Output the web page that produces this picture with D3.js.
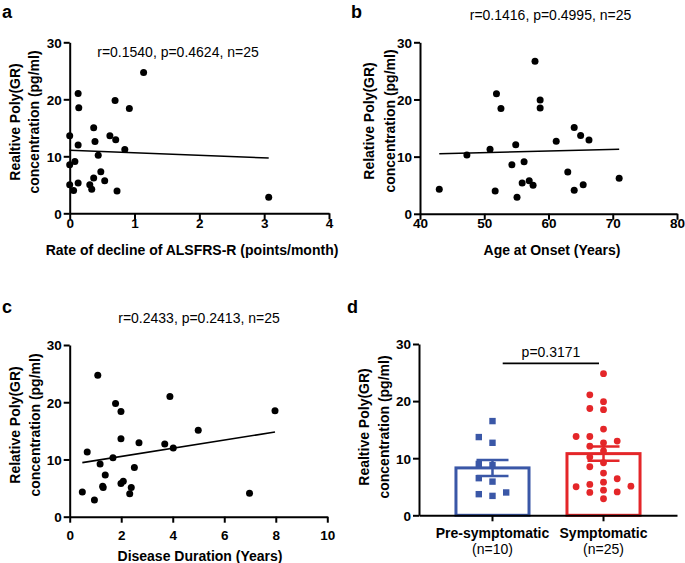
<!DOCTYPE html>
<html><head><meta charset="utf-8">
<script src="https://cdn.jsdelivr.net/npm/d3@7"></script>
<style>
body{margin:0;background:#fff}
svg{display:block}
text{font-family:"Liberation Sans",Arial,Helvetica,sans-serif;fill:#000}
</style>
</head><body>
<svg id="chart" width="685" height="563"></svg>
<script>
// ---------- data ----------
// Panel a: rate of decline of ALSFRS-R vs concentration
const aRate = [1.14,0.13,0.14,0.70,0.92,0.00,0.37,0.39,0.62,0.71,0.85,0.13,0.44,0.00,0.08,0.48,0.37,0.54,0.00,0.06,0.13,0.31,0.34,0.73,3.07];
const aConc = [24.7,21.0,18.5,19.8,18.4,13.6,15.0,12.6,13.6,12.9,11.2,12.0,10.2,8.5,9.1,7.3,6.2,5.7,5.0,4.0,5.3,5.0,4.2,3.9,2.8];
const aFitX = [0, 3.07];
const aFitY = [11.05, 9.7];
const aStat = "r=0.1540, p=0.4624, n=25";

// Panel b: age at onset vs concentration
const bAge = [43.0,47.3,50.9,51.9,52.6,51.7,54.9,54.3,56.2,55.9,55.1,57.0,57.6,57.9,58.7,58.7,61.2,64.0,65.0,66.3,63.0,65.4,64.0,71.0];
const bConc = [4.3,10.3,11.3,21.0,18.4,4.0,12.1,8.6,9.1,5.4,2.9,5.8,5.0,26.7,19.9,18.5,12.7,15.1,13.7,12.9,7.3,5.1,4.1,6.2];
const bFitX = [43, 71];
const bFitY = [10.5, 11.3];
const bStat = "r=0.1416, p=0.4995, n=25";

// Panel c: disease duration vs concentration
const cDur = [1.09,0.49,0.68,0.96,1.18,1.38,1.28,1.30,1.68,1.78,1.99,1.99,1.99,2.08,2.39,2.33,2.51,2.69,3.69,3.89,4.02,4.99,7.97,6.98];
const cConc = [24.7,4.3,11.3,2.9,9.2,7.3,5.3,5.1,10.3,19.8,18.4,13.6,5.8,6.2,5.1,4.0,8.6,12.9,12.7,21.0,12.0,15.1,18.5,4.1];
const cFitX = [0.49, 7.97];
const cFitY = [9.45, 14.8];
const cStat = "r=0.2433, p=0.2413, n=25";

// Panel d: groups
const groups = ["Pre-symptomatic", "Symptomatic"];
const groupN = ["(n=10)", "(n=25)"];
const groupMean = [8.3, 10.8];
const groupSEM = [1.4, 1.25];
const preVals = [16.5,13.7,12.7,9.0,8.8,6.5,5.9,3.4,4.0,3.7];
const symVals = [24.8,21.1,18.7,19.9,18.5,15.1,13.8,13.8,12.7,13.0,12.1,11.3,10.2,9.2,8.5,7.4,6.4,5.1,5.0,5.4,5.8,4.4,4.0,4.1,2.9];
const dStat = "p=0.3171";

const yTicks = [0, 10, 20, 30];

// ---------- drawing ----------
const svg = d3.select("#chart");
const FONT = '"Liberation Sans",Arial,Helvetica,sans-serif';
const BLUE = "#3a57a7", RED = "#e42629";

function styleAxis(g) {
  g.selectAll("path.domain").attr("stroke", "#000").attr("stroke-width", 2);
  g.selectAll(".tick line").attr("stroke", "#000").attr("stroke-width", 2);
  g.selectAll(".tick text").attr("font-family", FONT).attr("font-size", 13.5)
    .attr("font-weight", "bold").attr("fill", "#000");
}

function yAxis(y, x0, line1, l1x, l2x, cy) {
  const g = svg.append("g").attr("transform", `translate(${x0},0)`)
    .call(d3.axisLeft(y).tickValues(yTicks).tickSize(6).tickSizeOuter(0).tickPadding(2));
  styleAxis(g);
  g.selectAll(".tick text").attr("dy", "0.36em");
  [[line1, l1x], ["concentration (pg/ml)", l2x]].forEach(([t, x]) => {
    svg.append("text").attr("transform", `translate(${x},${cy}) rotate(-90)`)
      .attr("text-anchor", "middle").attr("font-size", 14).attr("font-weight", "bold").text(t);
  });
}

function scatterPanel(o) {
  const x = d3.scaleLinear().domain(o.xDomain).range(o.xRange);
  const y = d3.scaleLinear().domain([0, 30]).range(o.yRange);
  // x axis
  const gx = svg.append("g").attr("transform", `translate(0,${o.yRange[0]})`)
    .call(d3.axisBottom(x).tickValues(o.xTicks).tickSize(6).tickSizeOuter(0).tickFormat(d3.format("d")));
  styleAxis(gx);
  gx.selectAll(".tick text").attr("y", o.xLabOff).attr("dy", "0");
  yAxis(y, o.xRange[0], o.yLine1, o.yl1, o.yl2, o.ylc);
  // points
  svg.append("g").selectAll("circle").data(o.xs.map((v, i) => [v, o.ys[i]])).join("circle")
    .attr("cx", d => x(d[0])).attr("cy", d => y(d[1])).attr("r", 3.5).attr("fill", "#000");
  // fit line
  svg.append("line").attr("x1", x(o.fitX[0])).attr("y1", y(o.fitY[0]))
    .attr("x2", x(o.fitX[1])).attr("y2", y(o.fitY[1])).attr("stroke", "#000").attr("stroke-width", 1.6);
  // texts
  svg.append("text").attr("x", o.statX).attr("y", o.statY).attr("text-anchor", "middle")
    .attr("font-size", 14).text(o.stat);
  svg.append("text").attr("x", o.titleX).attr("y", o.titleY).attr("text-anchor", "middle")
    .attr("font-size", 14).attr("font-weight", "bold").text(o.title);
  svg.append("text").attr("x", o.letterX).attr("y", o.letterY)
    .attr("font-size", 18).attr("font-weight", "bold").text(o.letter);
}

scatterPanel({xs: aRate, ys: aConc, fitX: aFitX, fitY: aFitY, xDomain: [0, 4], xTicks: [0,1,2,3,4],
  xRange: [69.7, 329], yRange: [213.3, 42.3], xLabOff: 14.5,
  yLine1: "Realtive Poly(GR)", yl1: 20, yl2: 39, ylc: 122,
  stat: aStat, statX: 178, statY: 57, title: "Rate of decline of ALSFRS-R (points/month)", titleX: 192, titleY: 255,
  letter: "a", letterX: 2, letterY: 17.5});

scatterPanel({xs: bAge, ys: bConc, fitX: bFitX, fitY: bFitY, xDomain: [40, 80], xTicks: [40,50,60,70,80],
  xRange: [420, 677], yRange: [213.8, 42.3], xLabOff: 14.5,
  yLine1: "Relative Poly(GR)", yl1: 374, yl2: 395, ylc: 121,
  stat: bStat, statX: 550.5, statY: 20, title: "Age at Onset (Years)", titleX: 552, titleY: 255,
  letter: "b", letterX: 351, letterY: 17.5});

scatterPanel({xs: cDur, ys: cConc, fitX: cFitX, fitY: cFitY, xDomain: [0, 10], xTicks: [0,2,4,6,8,10],
  xRange: [69.7, 327.3], yRange: [516.7, 345], xLabOff: 23.5,
  yLine1: "Relative Poly(GR)", yl1: 20, yl2: 40, ylc: 425,
  stat: cStat, statX: 199, statY: 323, title: "Disease Duration (Years)", titleX: 200, titleY: 561,
  letter: "c", letterX: 2, letterY: 313});

// ---------- panel d ----------
(function () {
  const y = d3.scaleLinear().domain([0, 30]).range([515.3, 344]);
  const x = d3.scaleBand().domain(groups).range([419, 677]).paddingInner(0.342).paddingOuter(0.333);
  const colors = [BLUE, RED];
  const bw = x.bandwidth();

  // bars (white fill, coloured outline)
  svg.append("g").selectAll("rect").data(groups).join("rect")
    .attr("x", d => x(d)).attr("width", bw)
    .attr("y", (d, i) => y(groupMean[i])).attr("height", (d, i) => y(0) - y(groupMean[i]))
    .attr("fill", "#fff").attr("stroke", (d, i) => colors[i]).attr("stroke-width", 3);

  // swarm points
  function swarm(vals, cx, step, minDist) {
    const placed = [];
    const order = vals.map((v, i) => i).sort((a, b) => vals[a] - vals[b]);
    order.forEach(i => {
      const py = y(vals[i]);
      for (const k of [0, -1, 1, -2, 2, -3, 3]) {
        if (placed.every(p => p.k !== k || Math.abs(p.py - py) >= minDist)) {
          placed.push({k, py, px: cx + k * step}); break;
        }
      }
    });
    return placed;
  }
  const c0 = x(groups[0]) + bw / 2, c1 = x(groups[1]) + bw / 2;
  svg.append("g").selectAll("rect").data(swarm(preVals, c0, 13.7, 7.5)).join("rect")
    .attr("x", d => d.px - 3.2).attr("y", d => d.py - 3.2).attr("width", 6.4).attr("height", 6.4)
    .attr("fill", BLUE);
  svg.append("g").selectAll("circle").data(swarm(symVals, c1, 13.7, 7.5)).join("circle")
    .attr("cx", d => d.px).attr("cy", d => d.py).attr("r", 3.4).attr("fill", RED);

  // error bars (mean ± SEM)
  groups.forEach((g, i) => {
    const cx = x(g) + bw / 2, lo = y(groupMean[i] - groupSEM[i]), hi = y(groupMean[i] + groupSEM[i]);
    const eg = svg.append("g").attr("stroke", colors[i]).attr("stroke-width", 2.5);
    eg.append("line").attr("x1", cx).attr("x2", cx).attr("y1", lo).attr("y2", hi);
    eg.append("line").attr("x1", cx - 16).attr("x2", cx + 16).attr("y1", lo).attr("y2", lo);
    eg.append("line").attr("x1", cx - 16).attr("x2", cx + 16).attr("y1", hi).attr("y2", hi);
  });

  // axes
  const gx = svg.append("g").attr("transform", `translate(0,${y(0)})`)
    .call(d3.axisBottom(x).tickSize(6).tickSizeOuter(0).tickFormat(""));
  styleAxis(gx);
  yAxis(y, 419, "Realtive Poly(GR)", 369, 389, 427);

  groups.forEach((g, i) => {
    const cx = x(g) + bw / 2;
    svg.append("text").attr("x", cx).attr("y", 537.5).attr("text-anchor", "middle")
      .attr("font-size", 14).attr("font-weight", "bold").text(g);
    svg.append("text").attr("x", cx).attr("y", 553.5).attr("text-anchor", "middle")
      .attr("font-size", 14).text(groupN[i]);
  });

  // significance bracket
  svg.append("line").attr("x1", 502.7).attr("x2", 599).attr("y1", 363.3).attr("y2", 363.3)
    .attr("stroke", "#000").attr("stroke-width", 1.8);
  svg.append("text").attr("x", 551).attr("y", 357).attr("text-anchor", "middle")
    .attr("font-size", 14).text(dStat);
  svg.append("text").attr("x", 347).attr("y", 313)
    .attr("font-size", 18).attr("font-weight", "bold").text("d");
})();
</script>
</body></html>
